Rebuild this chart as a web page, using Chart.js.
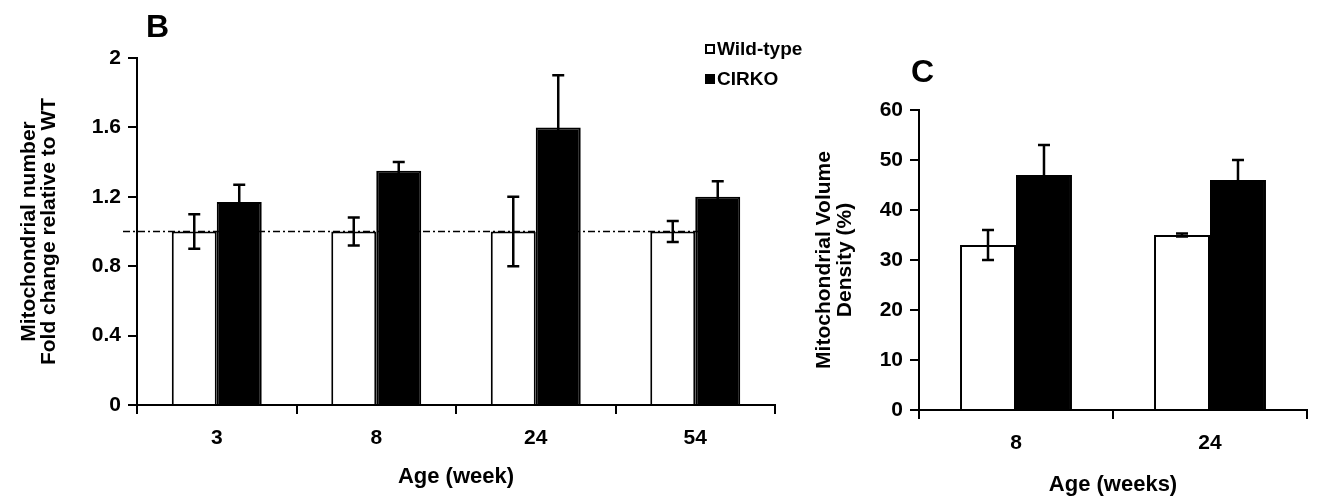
<!DOCTYPE html>
<html>
<head>
<meta charset="utf-8">
<script src="https://cdn.jsdelivr.net/npm/chart.js@4.4.1/dist/chart.umd.min.js"></script>
<style>
  html, body { margin: 0; padding: 0; background: #fff; }
  #wrap { position: relative; width: 1320px; height: 500px; font-family: Arial, 'Liberation Sans', sans-serif; font-weight: bold; color: #000; }
  #boxB { position: absolute; left: 0; top: 0; width: 800px; height: 500px; }
  #boxC { position: absolute; left: 800px; top: 0; width: 520px; height: 500px; }
  .panel { position: absolute; font-size: 32px; line-height: 1; }
  #legend { position: absolute; left: 705px; top: 34px; font-size: 19px; }
  .row { display: flex; align-items: center; height: 30px; }
  .sw { width: 10px; height: 10px; box-sizing: border-box; border: 2px solid #000; margin-right: 2px; }
</style>
</head>
<body>
<div id="wrap">
  <div id="boxB"><canvas id="chartB" width="800" height="500"></canvas></div>
  <div id="boxC"><canvas id="chartC" width="520" height="500"></canvas></div>
  <div class="panel" style="left:146px; top:10px;">B</div>
  <div class="panel" style="left:911px; top:55px;">C</div>
  <div id="legend"></div>
</div>
<script>
// panel B - mitochondrial number, fold change vs WT
var ages = ['3', '8', '24', '54'];
var seriesNames = ['Wild-type', 'CIRKO'];
var seriesFill = ['#ffffff', '#000000'];
var wtNumber = [1.0, 1.0, 1.0, 1.0];
var wtNumberErr = [0.10, 0.08, 0.20, 0.06];
var koNumber = [1.17, 1.35, 1.60, 1.20];
var koNumberErr = [0.10, 0.05, 0.30, 0.09];
var refLine = 1.0;

// panel C - mitochondrial volume density
var agesC = ['8', '24'];
var wtDensity = [33, 35];
var wtDensityErr = [3, 0.3];
var koDensity = [47, 46];
var koDensityErr = [6, 4];

Chart.defaults.font.family = "Arial, 'Liberation Sans', sans-serif";
Chart.defaults.font.weight = 'bold';
Chart.defaults.color = '#000';

// legend (html, shared by both panels)
var legend = document.getElementById('legend');
seriesNames.forEach(function (name, i) {
  var row = document.createElement('div');
  row.className = 'row';
  var sw = document.createElement('div');
  sw.className = 'sw';
  sw.style.background = seriesFill[i];
  row.appendChild(sw);
  row.appendChild(document.createTextNode(name));
  legend.appendChild(row);
});

// error bars drawn from each dataset's errors array
var errorBars = {
  id: 'errorBars',
  afterDatasetsDraw: function (chart) {
    var ctx = chart.ctx, y = chart.scales.y;
    ctx.save();
    ctx.strokeStyle = '#000';
    ctx.lineWidth = 2.5;
    chart.data.datasets.forEach(function (ds, i) {
      chart.getDatasetMeta(i).data.forEach(function (bar, j) {
        var v = ds.data[j], e = ds.errors[j];
        var top = y.getPixelForValue(v + e), bot = y.getPixelForValue(v - e);
        ctx.beginPath();
        ctx.moveTo(bar.x, top); ctx.lineTo(bar.x, bot);
        ctx.moveTo(bar.x - 6, top); ctx.lineTo(bar.x + 6, top);
        ctx.moveTo(bar.x - 6, bot); ctx.lineTo(bar.x + 6, bot);
        ctx.stroke();
      });
    });
    ctx.restore();
  }
};

// dash-dot reference line at fold change = 1
var refLinePlugin = {
  id: 'refLine',
  beforeDatasetsDraw: function (chart) {
    var ctx = chart.ctx, a = chart.chartArea;
    var yy = chart.scales.y.getPixelForValue(refLine);
    ctx.save();
    ctx.strokeStyle = '#000';
    ctx.lineWidth = 1.5;
    ctx.setLineDash([7, 3, 2, 3]);
    ctx.beginPath();
    ctx.moveTo(a.left - 14, yy);
    ctx.lineTo(a.right - 37, yy);
    ctx.stroke();
    ctx.restore();
  }
};

function makeDatasets(wt, wtErr, ko, koErr, catPct) {
  return [
    { label: seriesNames[0], data: wt, errors: wtErr, backgroundColor: seriesFill[0],
      borderColor: '#000', borderWidth: 2, categoryPercentage: catPct, barPercentage: 1 },
    { label: seriesNames[1], data: ko, errors: koErr, backgroundColor: seriesFill[1],
      borderColor: '#000', borderWidth: 2, categoryPercentage: catPct, barPercentage: 1 }
  ];
}

function axisGrid() {
  return { display: true, drawOnChartArea: false, drawTicks: true, tickLength: 9,
           color: '#000', lineWidth: 2 };
}

new Chart(document.getElementById('chartB'), {
  type: 'bar',
  data: { labels: ages, datasets: makeDatasets(wtNumber, wtNumberErr, koNumber, koNumberErr, 0.564) },
  options: {
    responsive: false,
    animation: false,
    devicePixelRatio: 1,
    layout: { padding: { top: 58, right: 25, left: 0, bottom: 0 } },
    plugins: { legend: { display: false }, tooltip: { enabled: false } },
    scales: {
      x: {
        afterFit: function (s) { s.height = 95; },
        grid: Object.assign(axisGrid(), { offset: true }),
        border: { display: true, color: '#000', width: 2 },
        ticks: { font: { size: 21, weight: 'bold' }, padding: 12 },
        title: { display: true, text: 'Age (week)', font: { size: 22, weight: 'bold' },
                 padding: { top: 0, bottom: 10 } }
      },
      y: {
        min: 0, max: 2,
        afterFit: function (s) { s.width = 137; },
        grid: axisGrid(),
        border: { display: true, color: '#000', width: 2 },
        ticks: { stepSize: 0.4, font: { size: 21, weight: 'bold' }, padding: 7,
                 callback: function (v) { return String(+v.toFixed(1)); } },
        title: { display: true, text: ['Mitochondrial number', 'Fold change relative to WT'],
                 font: { size: 21, weight: 'bold', lineHeight: 0.95 },
                 padding: { top: 19, bottom: 0 } }
      }
    }
  },
  plugins: [refLinePlugin, errorBars]
});

new Chart(document.getElementById('chartC'), {
  type: 'bar',
  data: { labels: agesC, datasets: makeDatasets(wtDensity, wtDensityErr, koDensity, koDensityErr, 0.577) },
  options: {
    responsive: false,
    animation: false,
    devicePixelRatio: 1,
    layout: { padding: { top: 110, right: 13, left: 0, bottom: 0 } },
    plugins: { legend: { display: false }, tooltip: { enabled: false } },
    scales: {
      x: {
        afterFit: function (s) { s.height = 90; },
        grid: Object.assign(axisGrid(), { offset: true }),
        border: { display: true, color: '#000', width: 2 },
        ticks: { font: { size: 21, weight: 'bold' }, padding: 12 },
        title: { display: true, text: 'Age (weeks)', font: { size: 22, weight: 'bold' },
                 padding: { top: 0, bottom: 2 } }
      },
      y: {
        min: 0, max: 60,
        afterFit: function (s) { s.width = 119; },
        grid: axisGrid(),
        border: { display: true, color: '#000', width: 2 },
        ticks: { stepSize: 10, font: { size: 21, weight: 'bold' }, padding: 7 },
        title: { display: true, text: ['Mitochondrial Volume', 'Density (%)'],
                 font: { size: 21, weight: 'bold', lineHeight: 1.0 },
                 padding: { top: 14, bottom: 0 } }
      }
    }
  },
  plugins: [errorBars]
});
</script>
</body>
</html>
